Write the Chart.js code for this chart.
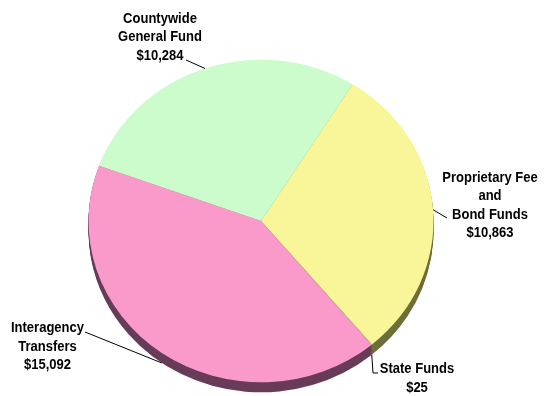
<!DOCTYPE html>
<html><head><meta charset="utf-8">
<script src="https://cdn.jsdelivr.net/npm/chart.js@4.4.1/dist/chart.umd.min.js"></script>
<style>html,body{margin:0;padding:0;background:#fff;}#wrap{width:548px;height:396px;position:relative}</style>
</head><body><div id="wrap"><canvas id="c" width="548" height="396"></canvas></div>
<script>
const categories = ["Countywide General Fund", "Proprietary Fee and Bond Funds", "State Funds", "Interagency Transfers"];
const labelLines = [["Countywide", "General Fund"], ["Proprietary Fee", "and", "Bond Funds"], ["State Funds"], ["Interagency", "Transfers"]];
const values = [10284, 10863, 25, 15092];

const topColors = ["#CCFCCC", "#F8F698", "#D8D8A0", "#FA9ACA"];
const rimColors = ["#7E9E7E", "#6E6E3A", "#60603C", "#683C58"];
const SY = 0.935;     // vertical tilt of the pie
const DEPTH = 10;     // rim depth in px
const FONT = "bold 15.5px 'Liberation Sans', Arial, sans-serif";
const XSCALE = 0.84;  // condensed look
const LINE_H = 18.5;
// label text placement (center x, middle y of first line) and leader start
const labelPos = [
  {x: 160, y: 18.7, lx: 186, ly: 60, rim: 0},
  {x: 490, y: 177.5, lx: 447, ly: 218, rim: 0},
  {x: 417, y: 369, lx: 378, ly: 373, rim: 1, elbow: true},
  {x: 47.5, y: 328, lx: 85, ly: 332, rim: 1}
];

function tilt(ctx, arc) {
  ctx.translate(arc.x, arc.y);
  ctx.scale(1, SY);
  ctx.translate(-arc.x, -arc.y);
}

const pie3d = {
  id: 'pie3d',
  beforeDatasetsDraw(chart) {
    const ctx = chart.ctx;
    const arcs = chart.getDatasetMeta(0).data;
    ctx.save();
    tilt(ctx, arcs[0]);
    for (let d = DEPTH; d >= 1; d--) {
      const off = d / SY;
      arcs.forEach((a, i) => {
        ctx.beginPath();
        ctx.moveTo(a.x, a.y + off);
        ctx.arc(a.x, a.y + off, a.outerRadius, a.startAngle, a.endAngle);
        ctx.closePath();
        ctx.fillStyle = rimColors[i];
        ctx.fill();
      });
    }
  },
  afterDatasetsDraw(chart) {
    chart.ctx.restore();
  },
  afterDraw(chart) {
    const ctx = chart.ctx;
    const arcs = chart.getDatasetMeta(0).data;
    ctx.save();
    ctx.strokeStyle = "#000";
    ctx.lineWidth = 1;
    arcs.forEach((a, i) => {
      const p = labelPos[i];
      const mid = (a.startAngle + a.endAngle) / 2;
      const ax = a.x + Math.cos(mid) * a.outerRadius;
      const ay = a.y + Math.sin(mid) * a.outerRadius * SY + p.rim * DEPTH;
      ctx.beginPath();
      ctx.moveTo(p.lx, p.ly);
      if (p.elbow) ctx.lineTo(p.lx - 5, p.ly);
      ctx.lineTo(ax, ay);
      ctx.stroke();
      const lines = labelLines[i].concat(["$" + values[i].toLocaleString('en-US')]);
      ctx.fillStyle = "#000";
      ctx.font = FONT;
      ctx.textAlign = "center";
      ctx.textBaseline = "middle";
      lines.forEach((t, k) => {
        ctx.save();
        ctx.translate(p.x, p.y + k * LINE_H);
        ctx.scale(XSCALE, 1);
        ctx.fillText(t, 0, 0);
        ctx.restore();
      });
    });
    ctx.restore();
  }
};

new Chart(document.getElementById('c'), {
  type: 'pie',
  data: {
    labels: categories,
    datasets: [{
      data: values,
      backgroundColor: topColors,
      borderWidth: 0,
      clip: false
    }]
  },
  options: {
    responsive: false,
    animation: false,
    events: [],
    rotation: -70,
    layout: {padding: {left: 88.5, right: 114.5, top: 48.5, bottom: 2.5}},
    plugins: {legend: {display: false}, tooltip: {enabled: false}}
  },
  plugins: [pie3d]
});
</script>
</body></html>
